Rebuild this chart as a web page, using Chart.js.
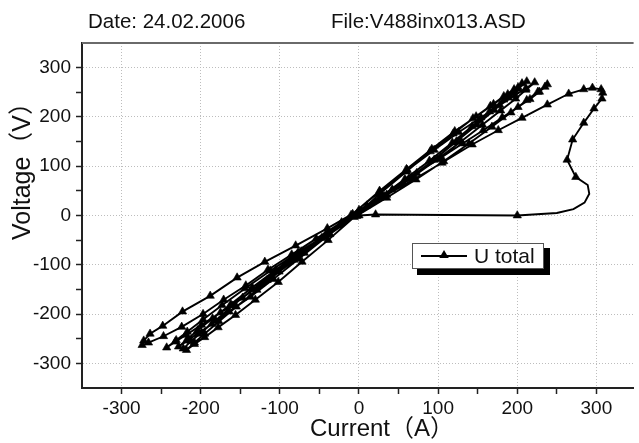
<!DOCTYPE html>
<html>
<head>
<meta charset="utf-8">
<script src="https://cdn.jsdelivr.net/npm/chart.js@4.4.0/dist/chart.umd.min.js"></script>
<style>
  html, body { margin: 0; padding: 0; background: #fff; overflow: hidden; }
  canvas { display: block; }
</style>
</head>
<body>
<canvas id="iv-chart" width="639" height="443"></canvas>
<script>
// Current (A) / voltage (V), one pair of arrays per sweep
const startI = [0, 21, 200, 250, 271, 285, 291, 289, 274, 263, 270, 284, 297, 307, 308, 306, 295, 284];
const startU = [0, 2, 0, 5, 13, 26, 44, 62, 78, 113, 154, 188, 217, 237, 249, 256, 259, 256];

const down1I = [265, 238, 206, 176, 143, 105, 70, 35, 0, -40, -80, -119, -154, -188, -223, -248, -264, -272, -274];
const down1U = [247, 225, 198, 173, 144, 107, 74, 42, 11, -26, -61, -94, -126, -163, -195, -224, -240, -254, -263];

const up1I = [-266, -247, -224, -197, -171, -143, -115, -85, -54, -22, 10, 42, 73, 103, 131, 157, 181, 201, 216, 228, 235, 238];
const up1U = [-258, -245, -226, -200, -171, -142, -110, -79, -47, -14, 20, 53, 86, 117, 146, 173, 199, 220, 236, 251, 261, 266];

const down2I = [226, 212, 192, 168, 139, 107, 72, 35, -3, -40, -77, -112, -144, -173, -197, -217, -231, -243];
const down2U = [251, 234, 209, 180, 146, 110, 73, 36, -1, -38, -75, -112, -148, -182, -211, -236, -253, -268];

const up2I = [-232, -218, -199, -175, -147, -116, -82, -47, -10, 26, 61, 95, 126, 154, 178, 197, 211, 222];
const up2U = [-256, -242, -222, -197, -167, -131, -90, -46, 1, 48, 92, 133, 169, 199, 224, 244, 258, 270];

const down3I = [211, 198, 179, 156, 129, 99, 67, 32, -3, -38, -73, -105, -135, -162, -185, -204, -217, -228];
const down3U = [255, 237, 213, 184, 150, 114, 77, 39, 2, -35, -73, -110, -146, -180, -209, -233, -251, -266];

const up3I = [-217, -204, -186, -164, -137, -108, -76, -42, -8, 26, 60, 92, 121, 148, 170, 188, 201, 212];
const up3U = [-254, -240, -220, -195, -165, -129, -88, -44, 3, 50, 94, 135, 171, 201, 226, 246, 260, 272];

const down4I = [201, 189, 171, 149, 123, 95, 63, 31, -3, -37, -69, -101, -129, -155, -177, -195, -208, -218];
const down4U = [257, 239, 214, 184, 150, 113, 75, 37, 0, -38, -76, -114, -151, -185, -215, -240, -258, -273];

const up4I = [-208, -195, -178, -156, -131, -102, -72, -39, -6, 27, 60, 90, 119, 144, 166, 183, 196, 206];
const up4U = [-261, -247, -227, -202, -171, -135, -94, -50, -3, 45, 89, 130, 166, 197, 222, 242, 256, 268];

const down5I = [196, 183, 165, 143, 118, 89, 58, 26, -8, -42, -74, -105, -134, -160, -181, -199, -212, -222];
const down5U = [253, 235, 211, 181, 148, 111, 74, 36, -1, -38, -76, -113, -150, -183, -213, -237, -255, -270];

// samples on the smooth start-up bend that carry no symbol
const bendPoints = [3, 4, 5, 6, 7];

const xTicks = [-300, -200, -100, 0, 100, 200, 300];
const yTicks = [-300, -200, -100, 0, 100, 200, 300];
const minorTicks = [-250, -150, -50, 50, 150, 250];

const current = [].concat(startI, down1I, up1I, down2I, up2I, down3I, up3I, down4I, up4I, down5I);
const voltage = [].concat(startU, down1U, up1U, down2U, up2U, down3U, up3U, down4U, up4U, down5U);
const points = current.map((v, i) => ({ x: v, y: voltage[i] }));

const FONT = '"Liberation Sans", Arial, sans-serif';
const TITLE_FONT = '"Liberation Sans", Arial, "Noto Sans CJK SC", sans-serif';

function allTicks(major) {
    return major.concat(minorTicks).sort((a, b) => a - b).map(v => ({ value: v }));
}

function drawTriangle(ctx, x, y, r) {
    ctx.beginPath();
    ctx.moveTo(x, y - r);
    ctx.lineTo(x + r * 0.95, y + r * 0.6);
    ctx.lineTo(x - r * 0.95, y + r * 0.6);
    ctx.closePath();
    ctx.fill();
}

// texts, top frame line and the boxed legend
const decorations = {
    id: 'decorations',
    afterDraw(chart) {
        const ctx = chart.ctx;
        const area = chart.chartArea;
        ctx.save();

        ctx.strokeStyle = '#6a6a6a';
        ctx.lineWidth = 2;
        ctx.beginPath();
        ctx.moveTo(area.left, area.top);
        ctx.lineTo(area.right, area.top);
        ctx.stroke();

        ctx.fillStyle = '#111';
        ctx.font = '20.5px ' + FONT;
        ctx.textBaseline = 'alphabetic';
        ctx.textAlign = 'left';
        ctx.fillText('Date: 24.02.2006', 88, 28);
        ctx.fillText('File:V488inx013.ASD', 331, 28);

        ctx.font = '24px ' + TITLE_FONT;
        ctx.textAlign = 'center';
        ctx.textBaseline = 'middle';
        ctx.fillText('Current（A）', 382, 429);
        ctx.save();
        ctx.translate(23, 165);
        ctx.rotate(-Math.PI / 2);
        ctx.font = '25px ' + TITLE_FONT;
        ctx.fillText('Voltage（V）', 0, 0);
        ctx.restore();

        // legend
        ctx.fillStyle = '#000';
        ctx.fillRect(417, 248, 133, 27);
        ctx.fillStyle = '#fff';
        ctx.fillRect(412, 243, 132, 26);
        ctx.strokeStyle = '#555';
        ctx.lineWidth = 1;
        ctx.strokeRect(412.5, 243.5, 131, 25);
        ctx.strokeStyle = '#000';
        ctx.lineWidth = 1.8;
        ctx.beginPath();
        ctx.moveTo(421, 256);
        ctx.lineTo(467, 256);
        ctx.stroke();
        ctx.fillStyle = '#000';
        drawTriangle(ctx, 444, 255, 5);
        ctx.fillStyle = '#111';
        ctx.font = '21px ' + FONT;
        ctx.textAlign = 'left';
        ctx.textBaseline = 'middle';
        ctx.fillText(chart.data.datasets[0].label, 474, 257);
        ctx.restore();
    }
};

const ctx = document.getElementById('iv-chart').getContext('2d');

new Chart(ctx, {
    type: 'scatter',
    data: {
        datasets: [{
            label: 'U total',
            data: points,
            showLine: true,
            borderColor: '#000',
            borderWidth: 1.9,
            backgroundColor: '#000',
            pointStyle: 'triangle',
            pointRadius: c => bendPoints.includes(c.dataIndex) ? 0 : 4.8,
            pointBorderWidth: 0.6,
            pointBorderColor: '#000',
            tension: 0
        }]
    },
    options: {
        responsive: false,
        animation: false,
        layout: { padding: { top: 43, right: 0, left: 0, bottom: 0 } },
        plugins: {
            legend: { display: false },
            tooltip: { enabled: false }
        },
        scales: {
            x: {
                type: 'linear',
                min: -350,
                max: 347,
                afterBuildTicks: s => { s.ticks = allTicks(xTicks); },
                afterFit: s => { s.height = 55; },
                grid: {
                    color: c => (c.tick && xTicks.includes(c.tick.value)) ? '#bdbdbd' : 'rgba(0,0,0,0)',
                    lineWidth: 1,
                    tickLength: 6,
                    tickColor: '#222',
                    tickWidth: 1.5
                },
                border: { display: true, color: '#222', width: 2, dash: [1, 2] },
                ticks: {
                    autoSkip: false,
                    maxRotation: 0,
                    padding: 3,
                    color: '#111',
                    font: { family: FONT, size: 19 },
                    callback: v => xTicks.includes(v) ? String(v) : ''
                }
            },
            y: {
                type: 'linear',
                min: -350,
                max: 350,
                afterBuildTicks: s => { s.ticks = allTicks(yTicks); },
                afterFit: s => { s.width = 82; },
                grid: {
                    color: c => (c.tick && yTicks.includes(c.tick.value)) ? '#bdbdbd' : 'rgba(0,0,0,0)',
                    lineWidth: 1,
                    tickLength: 6,
                    tickColor: '#222',
                    tickWidth: 1.5
                },
                border: { display: true, color: '#222', width: 2, dash: [1, 2] },
                ticks: {
                    autoSkip: false,
                    padding: 5,
                    color: '#111',
                    font: { family: FONT, size: 19 },
                    callback: v => yTicks.includes(v) ? String(v) : ''
                }
            }
        }
    },
    plugins: [decorations]
});
</script>
</body>
</html>
